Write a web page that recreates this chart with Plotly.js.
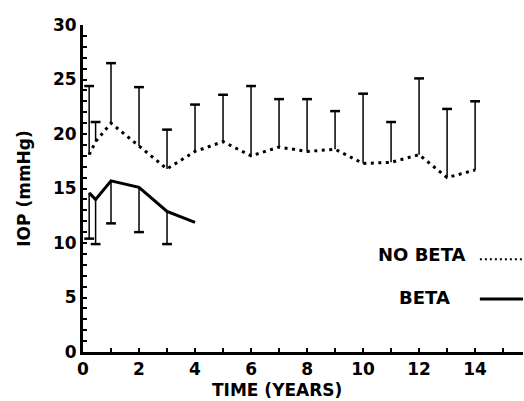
<!DOCTYPE html>
<html>
<head>
<meta charset="utf-8">
<script src="https://cdn.plot.ly/plotly-3.0.1.min.js"></script>
<style>html,body{margin:0;padding:0;background:#fff;}#chart{width:524px;height:401px;}</style>
</head>
<body>
<div id="chart"></div>
<script>
// ---- data ----
var yearsNoBeta = [0.22, 0.45, 1, 2, 3, 4, 5, 6, 7, 8, 9, 10, 11, 12, 13, 14];
var iopNoBeta   = [18.1, 19.3, 21.0, 18.9, 16.8, 18.4, 19.3, 18.0, 18.8, 18.4, 18.6, 17.3, 17.4, 18.1, 16.0, 16.7];
var upperNoBeta = [24.4, 21.1, 26.5, 24.3, 20.4, 22.7, 23.6, 24.4, 23.2, 23.2, 22.1, 23.7, 21.1, 25.1, 22.3, 23.0];

var yearsBeta = [0.22, 0.45, 1, 2, 3, 4];
var iopBeta   = [14.6, 14.0, 15.7, 15.1, 12.9, 11.9];
var lowerBeta = [10.4, 9.9, 11.8, 11.0, 9.9, null];

var seriesNames = ["NO BETA", "BETA"];
var xTitle = "TIME (YEARS)";
var yTitle = "IOP (mmHg)";

// ---- helpers: one-sided error bars built from the arrays ----
function stems(xs, from, to) {
  var x = [], y = [];
  for (var i = 0; i < xs.length; i++) {
    if (to[i] === null || to[i] === undefined) continue;
    x.push(xs[i], xs[i], null);
    y.push(from[i], to[i], null);
  }
  return {x: x, y: y};
}
function caps(xs, ends) {
  var x = [], y = [];
  for (var i = 0; i < xs.length; i++) {
    if (ends[i] === null || ends[i] === undefined) continue;
    x.push(xs[i]); y.push(ends[i]);
  }
  return {x: x, y: y};
}

var sNo = stems(yearsNoBeta, iopNoBeta, upperNoBeta);
var cNo = caps(yearsNoBeta, upperNoBeta);
var sB = stems(yearsBeta, iopBeta, lowerBeta);
var cB = caps(yearsBeta, lowerBeta);

var FONT = "DejaVu Sans, Arial, sans-serif";

var traces = [
  {x: sNo.x, y: sNo.y, mode: "lines", connectgaps: false, showlegend: false, hoverinfo: "skip",
   line: {color: "#000", width: 1.5}},
  {x: cNo.x, y: cNo.y, mode: "markers", showlegend: false, hoverinfo: "skip",
   marker: {symbol: "line-ew-open", size: 7, color: "#000", line: {color: "#000", width: 2.5}}},
  {x: yearsNoBeta, y: iopNoBeta, name: seriesNames[0], mode: "lines", showlegend: false,
   line: {color: "#000", width: 3, dash: "3px,4.5px"}},
  {x: sB.x, y: sB.y, mode: "lines", connectgaps: false, showlegend: false, hoverinfo: "skip",
   line: {color: "#000", width: 1.5}},
  {x: cB.x, y: cB.y, mode: "markers", showlegend: false, hoverinfo: "skip",
   marker: {symbol: "line-ew-open", size: 7, color: "#000", line: {color: "#000", width: 2.5}}},
  {x: yearsBeta, y: iopBeta, name: seriesNames[1], mode: "lines", showlegend: false,
   line: {color: "#000", width: 3}}
];

var tickFont = {family: FONT, size: 17, color: "#000", weight: "bold"};

var layout = {
  width: 524, height: 401,
  margin: {l: 83, r: 1, t: 25, b: 49, pad: 0},
  paper_bgcolor: "#fff", plot_bgcolor: "#fff",
  showlegend: false,
  xaxis: {
    range: [0, 15.71], showgrid: false, zeroline: false,
    showline: true, linecolor: "#000", linewidth: 2.5,
    ticks: "inside", ticklen: 4, tickwidth: 2, tickcolor: "#000",
    tick0: 0, dtick: 2, tickfont: tickFont,
    minor: {dtick: 1, ticks: "inside", ticklen: 4, tickwidth: 2, tickcolor: "#000", showgrid: false}
  },
  yaxis: {
    range: [0, 30], showgrid: false, zeroline: false,
    showline: true, linecolor: "#000", linewidth: 3,
    ticks: "inside", ticklen: 4, tickwidth: 2, tickcolor: "#000",
    tick0: 0, dtick: 5, tickfont: tickFont,
    minor: {dtick: 1, ticks: "inside", ticklen: 4, tickwidth: 2, tickcolor: "#000", showgrid: false},
    title: {text: yTitle, font: {family: FONT, size: 17, color: "#000", weight: "bold"}, standoff: 18}
  },
  annotations: [
    {text: xTitle, xref: "paper", yref: "paper", x: 0.44, y: -0.116, xanchor: "center", yanchor: "middle",
     showarrow: false, font: {family: FONT, size: 17, color: "#000", weight: "bold"}},
    {text: seriesNames[0], xref: "paper", yref: "paper", x: 0.876, y: 0.297, xanchor: "right", yanchor: "middle",
     showarrow: false, font: {family: FONT, size: 18, color: "#000", weight: "bold"}},
    {text: seriesNames[1], xref: "paper", yref: "paper", x: 0.839, y: 0.166, xanchor: "right", yanchor: "middle",
     showarrow: false, font: {family: FONT, size: 18, color: "#000", weight: "bold"}}
  ],
  shapes: [
    {type: "line", xref: "paper", yref: "paper", x0: 0.902, x1: 0.998, y0: 0.284, y1: 0.284,
     line: {color: "#000", width: 2, dash: "2px,3px"}},
    {type: "line", xref: "paper", yref: "paper", x0: 0.902, x1: 1.0, y0: 0.162, y1: 0.162,
     line: {color: "#000", width: 3}}
  ]
};

Plotly.newPlot("chart", traces, layout, {displayModeBar: false, staticPlot: true});
</script>
</body>
</html>
